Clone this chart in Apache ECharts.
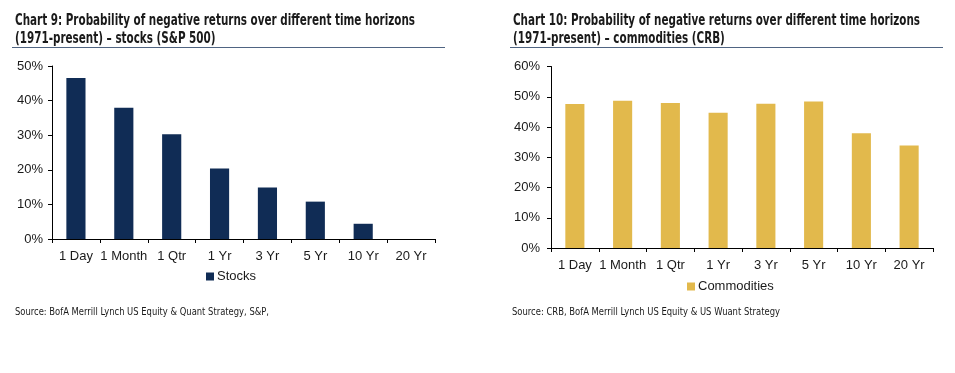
<!DOCTYPE html>
<html>
<head>
<meta charset="utf-8">
<script src="https://cdn.jsdelivr.net/npm/echarts@6/dist/echarts.min.js"></script>
<style>
html,body{margin:0;padding:0;background:#fff;}
#c{width:955px;height:373px;}
</style>
</head>
<body>
<div id="c"></div>
<script>
// ---- data ----
var categories = ['1 Day', '1 Month', '1 Qtr', '1 Yr', '3 Yr', '5 Yr', '10 Yr', '20 Yr'];
var stocks = [46.5, 37.9, 30.3, 20.4, 14.9, 10.8, 4.4, 0];
var commodities = [47.6, 48.7, 47.9, 44.7, 47.7, 48.4, 37.9, 33.9];
var stockTicks = [0, 10, 20, 30, 40, 50];
var commodityTicks = [0, 10, 20, 30, 40, 50, 60];
var titleLeft1 = 'Chart 9: Probability of negative returns over different time horizons';
var titleLeft2 = '(1971-present) \u2013 stocks (S&P 500)';
var titleRight1 = 'Chart 10: Probability of negative returns over different time horizons';
var titleRight2 = '(1971-present) \u2013 commodities (CRB)';
var sourceLeft = 'Source: BofA Merrill Lynch US Equity & Quant Strategy, S&P,';
var sourceRight = 'Source: CRB, BofA Merrill Lynch US Equity & US Wuant Strategy';

// ---- styles ----
var NAVY = '#102c55';
var GOLD = '#e2b94c';
var TXT = '#1a1a1a';
var RULE = '#4f6482';
var LBL_FONT = "'Liberation Sans', Arial, sans-serif";
var TITLE_FONT_FAMILY = "'DejaVu Sans Condensed', 'DejaVu Sans', sans-serif";
var TITLE_FONT = 'bold 15px ' + TITLE_FONT_FAMILY;
var SRC_FONT = "11px 'DejaVu Sans Condensed', 'DejaVu Sans', sans-serif";

var mctx = document.createElement('canvas').getContext('2d');
function measure(text, font) { mctx.font = font; return mctx.measureText(text).width; }

var sTL = 400 / measure(titleLeft1, TITLE_FONT);
var sTR = 407 / measure(titleRight1, TITLE_FONT);
var sSL = 254 / measure(sourceLeft, SRC_FONT);
var sSR = 268 / measure(sourceRight, SRC_FONT);

function txt(x, y, text, font, sx) {
  return { type: 'text', x: x, y: y, scaleX: sx, silent: true,
    style: { text: text, font: font, fill: TXT, verticalAlign: 'middle', align: 'left' } };
}
function rule(x1, x2, y) {
  return { type: 'line', silent: true, shape: { x1: x1, y1: y, x2: x2, y2: y },
    style: { stroke: RULE, lineWidth: 1 } };
}

function xAxis(idx) {
  return {
    type: 'category', gridIndex: idx, data: categories,
    axisLine: { show: true, lineStyle: { color: '#000', width: 1 } },
    axisTick: { show: true, inside: false, length: 4, lineStyle: { color: '#000' } },
    axisLabel: { color: TXT, fontSize: 13, fontFamily: LBL_FONT, margin: 11, interval: 0 }
  };
}
function yAxis(idx, max, margin) {
  return {
    type: 'value', gridIndex: idx, min: 0, max: max, interval: 10,
    axisLine: { show: true, lineStyle: { color: '#000', width: 1 } },
    axisTick: { show: true, inside: false, length: 4, lineStyle: { color: '#000' } },
    splitLine: { show: false },
    axisLabel: { color: TXT, fontSize: 13, fontFamily: LBL_FONT, margin: margin, formatter: '{value}%' }
  };
}

var chart = echarts.init(document.getElementById('c'), null, { renderer: 'canvas' });
chart.setOption({
  animation: false,
  backgroundColor: '#fff',
  grid: [
    { left: 52, top: 66, width: 383, height: 173 },
    { left: 551, top: 66.5, width: 382, height: 181.5 }
  ],
  xAxis: [xAxis(0), xAxis(1)],
  yAxis: [yAxis(0, stockTicks[stockTicks.length - 1], 9), yAxis(1, commodityTicks[commodityTicks.length - 1], 11)],
  legend: [
    { data: ['Stocks'], left: 206, top: 270, padding: 0, icon: 'rect', itemWidth: 8, itemHeight: 8, itemGap: 4,
      textStyle: { color: TXT, fontSize: 13, fontFamily: LBL_FONT, padding: [0, 0, 0, -2] } },
    { data: ['Commodities'], left: 687, top: 280, padding: 0, icon: 'rect', itemWidth: 8, itemHeight: 8, itemGap: 4,
      textStyle: { color: TXT, fontSize: 13, fontFamily: LBL_FONT, padding: [0, 0, 0, -2] } }
  ],
  series: [
    { name: 'Stocks', type: 'bar', xAxisIndex: 0, yAxisIndex: 0, data: stocks, barWidth: '40%',
      itemStyle: { color: NAVY } },
    { name: 'Commodities', type: 'bar', xAxisIndex: 1, yAxisIndex: 1, data: commodities, barWidth: '40%',
      itemStyle: { color: GOLD } }
  ],
  graphic: [
    txt(15, 21, titleLeft1, TITLE_FONT, sTL),
    txt(15, 39, titleLeft2, TITLE_FONT, sTL),
    rule(12, 445, 47.5),
    txt(513, 21, titleRight1, TITLE_FONT, sTR),
    txt(513, 39, titleRight2, TITLE_FONT, sTR),
    rule(510, 943, 47.5),
    txt(15, 312, sourceLeft, SRC_FONT, sSL),
    txt(512, 312, sourceRight, SRC_FONT, sSR)
  ]
});
</script>
</body>
</html>
